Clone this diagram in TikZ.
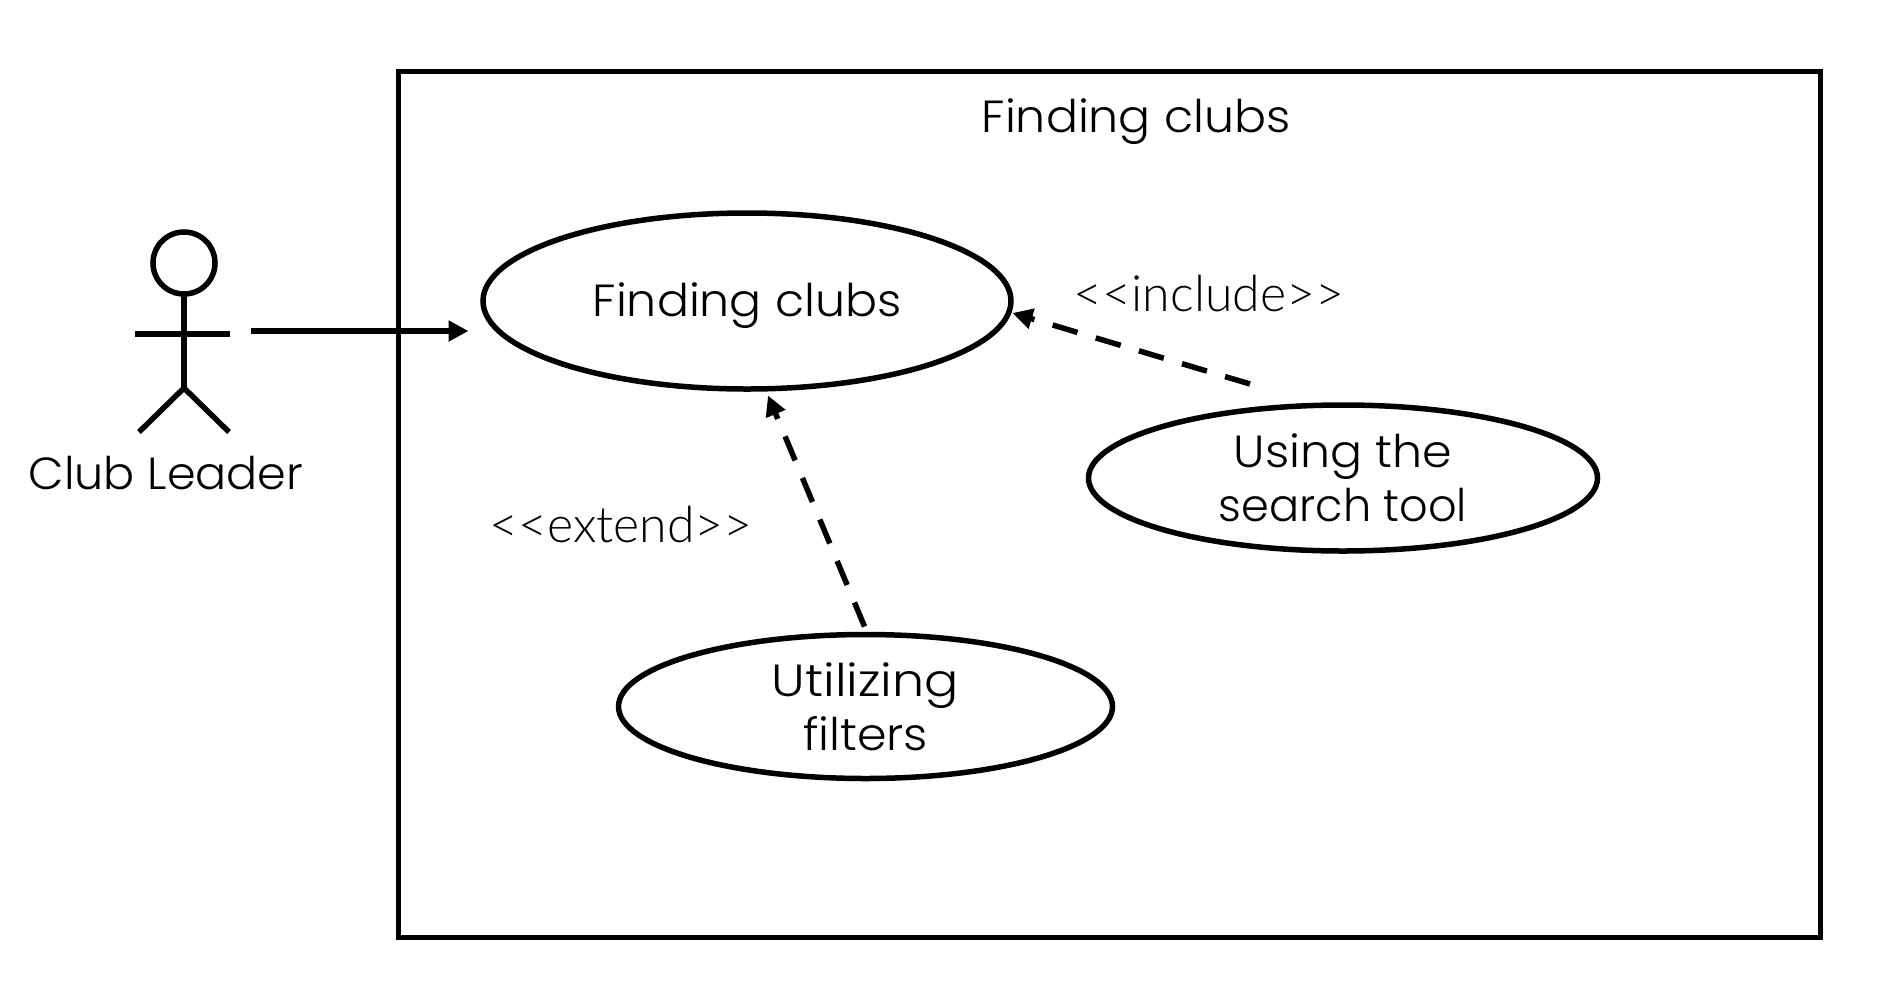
\documentclass[tikz,border=0pt]{standalone}
\usepackage{graphicx}
\usepackage{fontspec}
\setmainfont{Poppins}[UprightFont=* Light,FakeStretch=1.055]
\newfontfamily\labelfont{Lato Light}
\usetikzlibrary{shapes.geometric,arrows.meta}
\tikzset{
  line/.style={line width=5.5pt,draw=black},
  usecase/.style={ellipse,line,inner sep=0pt,outer sep=0pt,align=center,font=\fontsize{45}{54}\selectfont},
  txt/.style={inner sep=0pt,outer sep=0pt,font=\fontsize{45}{54}\selectfont,align=center},
  stereo/.style={inner sep=0pt,outer sep=0pt,font=\labelfont\fontsize{50}{54}\selectfont},
  assoc/.style={line,-{Triangle[length=20pt,width=20pt]}},
  depend/.style={assoc,dash pattern=on 26pt off 19pt}
}
\begin{document}
\begin{tikzpicture}[x=1pt,y=-1pt]
\useasboundingbox (0,0) rectangle (1884,1002);
\node[line,rectangle,inner sep=0pt,outer sep=0pt,minimum width=1422pt,minimum height=866pt] (system) at (1109.5,504.5) {};
\node[txt] (systitle) at (1136,122) {Finding clubs};
\node[usecase,minimum width=528pt,minimum height=176pt] (fc) at (747,301) {\raisebox{-15pt}[0pt][0pt]{Finding clubs}};
\node[usecase,minimum width=509pt,minimum height=146pt] (search) at (1343,478) {\raisebox{1pt}{Using the}\\\raisebox{1pt}{\scalebox{0.94}[1]{search tool}}};
\node[usecase,minimum width=494pt,minimum height=144pt] (filter) at (865.5,706.5) {\scalebox{1.07}[1]{Utilizing}\\filters};
\node[stereo] (inc) at (1209,294) {<{}<include>{}>};
\node[stereo] (ext) at (621,525) {<{}<extend>{}>};
% actor
\node[circle,line,inner sep=0pt,outer sep=0pt,minimum size=62pt] (head) at (184,263) {};
\coordinate (hip) at (184,388);
\coordinate (armL) at (135,334);
\coordinate (armR) at (230,334);
\coordinate (footL) at (139,432);
\coordinate (footR) at (229,432);
\draw[line] (head.south) -- (hip);
\draw[line] (armL) -- (armR);
\draw[line] (footL) -- (hip) -- (footR);
\node[txt] (actor) at (166,473) {\scalebox{0.97}[1]{Club Leader}};
% connectors
\draw[assoc] ([shift={(67,68)}]head.center) -- ([shift={(-14.5,30)}]fc.west);
\draw[depend] ([shift={(-93,-21)}]search.north) -- ([shift={(1.5,12)}]fc.east);
\draw[depend] ([shift={(-1,-8)}]filter.north) -- ([shift={(21,6.5)}]fc.south);
\end{tikzpicture}
\end{document}
